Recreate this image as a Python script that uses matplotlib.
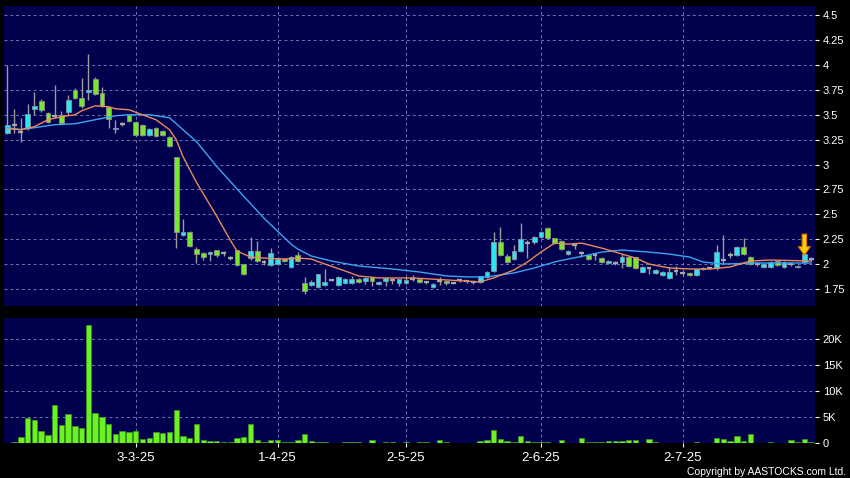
import numpy as np
import matplotlib
matplotlib.use("Agg")
import matplotlib.pyplot as plt
from matplotlib.ticker import FixedLocator, FuncFormatter

# daily candles, Feb 4 2025 .. Jul 29 2025 (trading-day index)
opens = [3.32, 3.40, 3.33, 3.37, 3.56, 3.64, 3.52, 3.49, 3.50, 3.53,
         3.75, 3.67, 3.73, 3.86, 3.72, 3.58, 3.36, 3.41, 3.50, 3.43,
         3.40, 3.30, 3.37, 3.34, 3.28, 3.08, 2.29, 2.32, 2.15, 2.11,
         2.10, 2.14, 2.11, 2.06, 2.14, 2.00, 2.06, 2.13, 2.02, 1.99,
         2.00, 2.05, 1.97, 2.09, 1.81, 1.79, 1.77, 1.79, 1.84, 1.79,
         1.81, 1.81, 1.85, 1.83, 1.87, 1.80, 1.83, 1.84, 1.81, 1.81,
         1.85, 1.85, 1.82, 1.77, 1.83, 1.83, 1.81, 1.84, 1.83, 1.82,
         1.82, 1.87, 1.93, 2.22, 2.08, 2.05, 2.13, 2.21, 2.22, 2.27,
         2.36, 2.26, 2.23, 2.10, 2.19, 2.11, 2.09, 2.09, 2.06, 2.01,
         2.01, 2.02, 2.07, 2.07, 1.92, 1.96, 1.91, 1.89, 1.86, 1.93,
         1.91, 1.91, 1.89, 1.95, 1.96, 1.96, 2.04, 2.09, 2.09, 2.17,
         2.07, 2.00, 1.97, 1.97, 2.03, 1.97, 2.00, 1.97, 2.02, 2.05]
highs = [4.00, 3.56, 3.47, 3.61, 3.73, 3.66, 3.53, 3.80, 3.54, 3.70,
         3.77, 3.87, 4.11, 3.88, 3.78, 3.59, 3.45, 3.43, 3.51, 3.44,
         3.41, 3.37, 3.38, 3.35, 3.29, 3.08, 2.45, 2.33, 2.17, 2.12,
         2.13, 2.14, 2.13, 2.08, 2.14, 2.00, 2.27, 2.23, 2.04, 2.16,
         2.06, 2.06, 2.08, 2.12, 1.87, 1.84, 1.90, 1.95, 1.85, 1.88,
         1.86, 1.88, 1.86, 1.87, 1.87, 1.83, 1.86, 1.86, 1.85, 1.87,
         1.89, 1.86, 1.83, 1.81, 1.87, 1.84, 1.82, 1.85, 1.84, 1.83,
         1.88, 1.93, 2.32, 2.37, 2.10, 2.19, 2.41, 2.24, 2.28, 2.33,
         2.37, 2.26, 2.24, 2.14, 2.20, 2.13, 2.10, 2.10, 2.07, 2.04,
         2.03, 2.10, 2.08, 2.07, 1.98, 1.97, 1.95, 1.93, 1.97, 1.98,
         1.93, 1.92, 1.95, 1.97, 1.97, 2.19, 2.29, 2.12, 2.18, 2.26,
         2.08, 2.02, 2.01, 2.03, 2.04, 2.03, 2.02, 1.99, 2.11, 2.07]
lows = [3.31, 3.32, 3.23, 3.35, 3.50, 3.53, 3.42, 3.47, 3.41, 3.50,
        3.66, 3.57, 3.65, 3.70, 3.58, 3.37, 3.32, 3.39, 3.43, 3.29,
        3.29, 3.29, 3.28, 3.29, 3.18, 2.16, 2.28, 2.17, 2.01, 2.04,
        2.03, 2.07, 2.08, 2.04, 1.98, 1.89, 2.04, 2.02, 1.99, 1.98,
        1.99, 2.02, 1.96, 2.02, 1.70, 1.78, 1.76, 1.78, 1.83, 1.78,
        1.80, 1.80, 1.81, 1.80, 1.78, 1.79, 1.78, 1.80, 1.78, 1.80,
        1.83, 1.81, 1.80, 1.76, 1.79, 1.79, 1.80, 1.82, 1.81, 1.80,
        1.81, 1.86, 1.92, 2.08, 2.01, 2.04, 2.12, 2.06, 2.20, 2.26,
        2.25, 2.20, 2.14, 2.09, 2.15, 2.07, 2.04, 2.04, 2.01, 2.00,
        1.99, 1.96, 1.97, 1.95, 1.91, 1.90, 1.90, 1.88, 1.85, 1.89,
        1.89, 1.88, 1.88, 1.94, 1.95, 1.94, 2.00, 2.06, 2.08, 2.09,
        1.99, 1.98, 1.96, 1.96, 1.98, 1.96, 1.98, 1.96, 2.01, 2.03]
closes = [3.40, 3.40, 3.33, 3.51, 3.59, 3.55, 3.43, 3.49, 3.42, 3.65,
          3.67, 3.59, 3.75, 3.71, 3.59, 3.46, 3.37, 3.41, 3.44, 3.30,
          3.30, 3.36, 3.29, 3.30, 3.19, 2.32, 2.32, 2.18, 2.10, 2.07,
          2.12, 2.09, 2.11, 2.06, 1.99, 1.90, 2.13, 2.03, 2.02, 2.11,
          2.05, 2.03, 2.07, 2.03, 1.73, 1.82, 1.90, 1.82, 1.84, 1.87,
          1.85, 1.85, 1.82, 1.86, 1.83, 1.82, 1.86, 1.84, 1.85, 1.84,
          1.85, 1.82, 1.82, 1.80, 1.83, 1.81, 1.81, 1.84, 1.83, 1.82,
          1.88, 1.92, 2.22, 2.09, 2.02, 2.13, 2.25, 2.21, 2.27, 2.32,
          2.26, 2.21, 2.15, 2.13, 2.19, 2.11, 2.05, 2.09, 2.02, 2.03,
          2.01, 2.07, 1.98, 1.96, 1.97, 1.96, 1.94, 1.92, 1.92, 1.93,
          1.91, 1.89, 1.95, 1.96, 1.96, 2.12, 2.04, 2.09, 2.17, 2.10,
          2.00, 2.00, 2.00, 2.02, 1.99, 2.02, 2.00, 1.98, 2.10, 2.05]
volumes = [50, 200, 1300, 4900, 4500, 2400, 1600, 7400, 3500, 5600,
           3300, 3000, 22800, 5800, 5100, 3700, 1700, 2300, 2200, 2300,
           800, 1000, 2200, 1900, 2100, 6400, 1400, 1000, 3700, 600,
           500, 450, 260, 260, 1000, 1150, 3700, 640, 260, 580,
           580, 190, 260, 640, 1800, 400, 250, 250, 100, 100,
           200, 200, 200, 150, 600, 150, 200, 200, 100, 200,
           100, 200, 200, 100, 600, 200, 100, 50, 50, 100,
           350, 700, 2600, 900, 450, 200, 1400, 450, 200, 200,
           200, 150, 600, 100, 100, 1000, 320, 190, 190, 380,
           450, 450, 580, 580, 60, 770, 190, 130, 130, 60,
           60, 60, 190, 60, 60, 960, 830, 380, 1410, 380,
           1800, 130, 130, 260, 130, 60, 580, 190, 770, 190]

# moving averages (orange = 10 day, blue = 20 day)
ma10_idx = [0, 2, 4, 6, 8, 10, 11, 13, 15, 16, 18, 20, 22, 24, 25, 26, 28,
            31, 33, 34, 36, 38, 41, 43, 45, 47, 50, 52, 55, 60, 65, 70, 72,
            75, 77, 79, 81, 83, 85, 88, 91, 93, 95, 98, 101, 104, 107, 110,
            113, 119]
ma10_val = [3.36, 3.35, 3.38, 3.45, 3.48, 3.50, 3.54, 3.59, 3.58, 3.56,
            3.55, 3.50, 3.45, 3.35, 3.25, 3.08, 2.82, 2.48, 2.24, 2.13,
            2.07, 2.06, 2.05, 2.06, 2.05, 2.00, 1.93, 1.88, 1.86, 1.86,
            1.84, 1.82, 1.86, 1.94, 2.02, 2.12, 2.21, 2.20, 2.21, 2.16,
            2.10, 2.06, 2.00, 1.96, 1.95, 1.95, 1.97, 2.03, 2.04, 2.03]
ma20_idx = [0, 2, 4, 7, 10, 13, 16, 18, 21, 24, 26, 28, 31, 35, 38, 42,
            43, 45, 48, 52, 57, 61, 65, 68, 71, 75, 78, 81, 83, 86, 88, 91,
            95, 98, 101, 103, 106, 111, 116, 119]
ma20_val = [3.37, 3.35, 3.37, 3.40, 3.41, 3.45, 3.49, 3.50, 3.50, 3.47,
            3.35, 3.23, 2.98, 2.68, 2.46, 2.20, 2.15, 2.08, 2.03, 1.98,
            1.95, 1.92, 1.88, 1.87, 1.87, 1.91, 1.96, 2.02, 2.05, 2.09,
            2.12, 2.14, 2.12, 2.10, 2.07, 2.02, 2.00, 2.01, 2.01, 2.01]

date_idx = [19, 40, 59, 79, 100]
date_labels = ["3-3-25", "1-4-25", "2-5-25", "2-6-25", "2-7-25"]
price_ticks = [1.75, 2, 2.25, 2.5, 2.75, 3, 3.25, 3.5, 3.75, 4, 4.25, 4.5]
vol_ticks = [0, 5000, 10000, 15000, 20000]
arrow_idx = 118

bg = "#00004e"
grid_kw = dict(color="#6a78a8", linestyle=(0, (3, 3)), linewidth=0.7)

fig = plt.figure(figsize=(8.5, 4.78), dpi=100, facecolor="black")
ax = fig.add_axes([4 / 850, 1 - 306 / 478, 810.5 / 850, 300 / 478])
axv = fig.add_axes([4 / 850, 1 - 443.3 / 478, 810.5 / 850, 125 / 478], sharex=ax)

o = np.array(opens)
h = np.array(highs)
l = np.array(lows)
c = np.array(closes)
x = np.arange(len(c))
up = c > o
dn = c < o
flat = c == o

ax.vlines(x, l, h, color="#9c9c9c", lw=1, zorder=3)
ax.bar(x[up], (c - o)[up], bottom=o[up], width=0.7, color="#30e4ee",
       edgecolor="#7f97a8", lw=0.6, zorder=4)
ax.bar(x[dn], (o - c)[dn], bottom=c[dn], width=0.7, color="#74ea2a",
       edgecolor="#8c8c8c", lw=0.6, zorder=4)
ax.hlines(c[flat], x[flat] - 0.36, x[flat] + 0.36, color="#a8a8a8", lw=1.6, zorder=4)

ax.plot(ma20_idx, ma20_val, color="#3aa6f2", lw=1, zorder=5)
ax.plot(ma10_idx, ma10_val, color="#ec8a5c", lw=1, zorder=5)

ax.annotate("", xy=(arrow_idx, c[arrow_idx] - 0.01), xytext=(arrow_idx, c[arrow_idx] + 0.2),
            arrowprops=dict(arrowstyle="simple,head_length=0.6,head_width=0.85,tail_width=0.32",
                            fc="#ffcc00", ec="#e07a00", lw=0.8, mutation_scale=10,
                            shrinkA=0, shrinkB=0),
            zorder=6)

axv.bar(x, volumes, width=0.8, color="#6af222", edgecolor="#3f9a1a", lw=0.5, zorder=3)

for a in (ax, axv):
    a.set_facecolor(bg)
    for s in a.spines.values():
        s.set_visible(False)
    a.yaxis.tick_right()
    a.tick_params(axis="y", colors="white", labelsize=8, length=3, pad=3)
    a.grid(True, **grid_kw)
    a.set_axisbelow(True)

ax.set_xlim(-0.5, 119.5)
ax.set_ylim(1.578, 4.593)
ax.yaxis.set_major_locator(FixedLocator(price_ticks))
ax.yaxis.set_major_formatter(FuncFormatter(lambda v, p: f"{v:g}"))
ax.xaxis.set_major_locator(FixedLocator(date_idx))
ax.tick_params(axis="x", length=0, labelbottom=False)

axv.set_ylim(0, 24040)
axv.yaxis.set_major_locator(FixedLocator(vol_ticks))
axv.yaxis.set_major_formatter(FuncFormatter(lambda v, p: "0" if v == 0 else f"{v / 1000:g}K"))
axv.set_xticks(date_idx)
axv.set_xticklabels(date_labels)
axv.tick_params(axis="x", colors="white", labelsize=9.5, length=3, pad=3)

for a in (ax, axv):
    for t in a.get_yticklabels() + a.get_xticklabels():
        t.set_family(["Liberation Sans", "DejaVu Sans"])

fig.text(0.995, 0.003, "Copyright by AASTOCKS.com Ltd.", ha="right", va="bottom",
         color="white", fontsize=7.5, family=["Liberation Sans", "DejaVu Sans"])

fig.savefig("out.png", dpi=100, facecolor="black")
